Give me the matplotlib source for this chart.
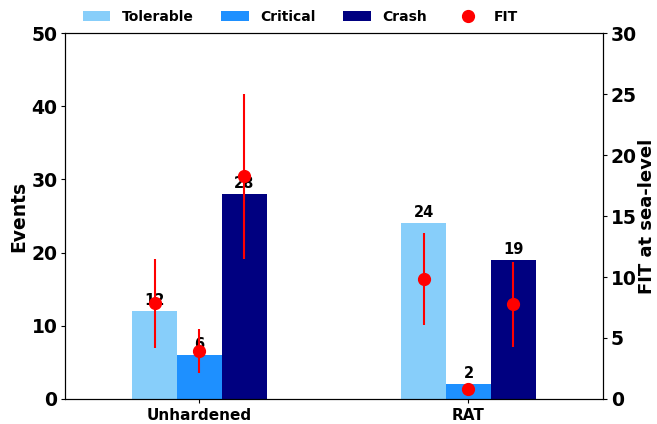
import matplotlib
matplotlib.use("Agg")
import matplotlib.pyplot as plt
import numpy as np

plt.rcParams['font.family'] = ['DejaVu Sans']
plt.rcParams['font.weight'] = 'bold'

groups = ["Unhardened", "RAT"]
categories = ["Tolerable", "Critical", "Crash"]
events = {
    "Tolerable": [12, 24],
    "Critical": [6, 2],
    "Crash": [28, 19],
}
fit_vals = {
    "Tolerable": [7.89, 9.81],
    "Critical": [3.91, 0.82],
    "Crash": [18.25, 7.76],
}
fit_low = {
    "Tolerable": [4.2, 6.04],
    "Critical": [2.1, 0.82],
    "Crash": [11.48, 4.26],
}
fit_high = {
    "Tolerable": [11.45, 13.58],
    "Critical": [5.71, 0.82],
    "Crash": [25.0, 11.25],
}
colors = {"Tolerable": "#87CEFA", "Critical": "#1E90FF", "Crash": "#000080"}

fig = plt.figure(figsize=(6.57, 4.24), dpi=100)
ax = fig.add_axes([0.0989, 0.059, 0.8189, 0.863])
ax2 = ax.twinx()

x = np.arange(len(groups))
w = 1 / 6
handles = []
for i, cat in enumerate(categories):
    pos = x + (i - 1) * w
    bars = ax.bar(pos, events[cat], width=w, color=colors[cat], label=cat)
    handles.append(bars)
    for p, v in zip(pos, events[cat]):
        ax.text(p, v + 0.4, str(v), ha='center', va='bottom', fontsize=10.5, fontweight='bold')
    vals = np.array(fit_vals[cat])
    lo = vals - np.array(fit_low[cat])
    hi = np.array(fit_high[cat]) - vals
    ax2.errorbar(pos, vals, yerr=[lo, hi], fmt='o', color='red', ecolor='red',
                 markersize=8.5, elinewidth=1.5, capsize=0, zorder=5)
handles.append(ax2.plot([], [], 'o', color='red', markersize=8.5, label='FIT')[0])

ax.set_xlim(-0.5, 1.5)
ax.set_ylim(0, 50)
ax2.set_ylim(0, 30)
ax.set_xticks(x)
ax.set_xticklabels(groups, fontsize=11, fontweight='bold')
ax.set_yticks(np.arange(0, 51, 10))
ax.tick_params(axis='y', labelsize=13.5, length=3, pad=2.5)
ax.tick_params(axis='x', length=3)
ax2.set_yticks(np.arange(0, 31, 5))
ax2.tick_params(axis='y', labelsize=13.5, length=3, pad=2.5)
for lab in ax.get_yticklabels() + ax2.get_yticklabels():
    lab.set_fontweight('bold')
ax.set_ylabel("Events", fontsize=13.5, fontweight='bold', labelpad=2)
ax2.set_ylabel("FIT at sea-level", fontsize=13, fontweight='bold', labelpad=1)

ax.legend(handles=handles, labels=["Tolerable", "Critical", "Crash", "FIT"],
          loc='center', bbox_to_anchor=(0.437, 1.045), ncol=4, frameon=False,
          prop={'size': 10, 'weight': 'bold'}, borderaxespad=0)

fig.savefig("out.png", dpi=100)
